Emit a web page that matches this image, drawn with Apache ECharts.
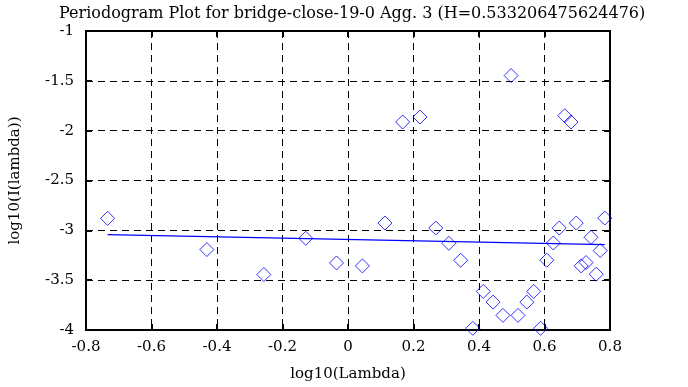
<!DOCTYPE html>
<html><head><meta charset="utf-8">
<script src="https://cdn.jsdelivr.net/npm/echarts@6/dist/echarts.min.js"></script>
<style>html,body{margin:0;padding:0;background:#fff}#c{width:688px;height:387px}</style>
</head><body><div id="c"></div>
<script>
var pointX = [-0.734, -0.431, -0.257, -0.129, -0.035, 0.044, 0.113, 0.167, 0.220, 0.268, 0.308, 0.344, 0.381, 0.413, 0.443, 0.473, 0.498, 0.519, 0.546, 0.567, 0.588, 0.607, 0.627, 0.645, 0.662, 0.681, 0.697, 0.712, 0.727, 0.742, 0.758, 0.770, 0.784];
var pointY = [-2.88, -3.193, -3.443, -3.08, -3.327, -3.357, -2.927, -1.913, -1.863, -2.977, -3.13, -3.30, -3.983, -3.613, -3.72, -3.853, -1.447, -3.853, -3.72, -3.613, -3.983, -3.30, -3.127, -2.977, -1.85, -1.913, -2.927, -3.357, -3.323, -3.07, -3.44, -3.203, -2.877];
var fitX = [-0.734, 0.784];
var fitY = [-3.043, -3.144];
var xTicks = [-0.8, -0.6, -0.4, -0.2, 0, 0.2, 0.4, 0.6, 0.8];
var yTicks = [-4, -3.5, -3, -2.5, -2, -1.5, -1];
var titleText = 'Periodogram Plot for bridge-close-19-0 Agg. 3 (H=0.533206475624476)';

var font = 'DejaVu Serif';
var pts = pointX.map(function(x,i){return [x, pointY[i]];});
var fit = fitX.map(function(x,i){return [x, fitY[i]];});
function fmt(v){ return String(Math.round(v*100)/100); }

var chart = echarts.init(document.getElementById('c'), null, {renderer:'canvas'});
chart.setOption({
  animation:false,
  backgroundColor:'#fff',
  title:{text:titleText, left:54, top:1, textStyle:{fontFamily:font, fontSize:16, fontWeight:'normal', color:'#000'}},
  grid:{left:82, right:78, top:31, bottom:56, containLabel:false},
  xAxis:[{
    type:'value', min:xTicks[0], max:xTicks[xTicks.length-1], interval:0.2,
    name:'log10(Lambda)', nameLocation:'middle', nameGap:37,
    nameTextStyle:{fontFamily:font, fontSize:15, color:'#000'},
    axisLine:{onZero:false, lineStyle:{color:'#000', width:2}},
    axisTick:{inside:true, length:6, lineStyle:{color:'#000', width:2}},
    axisLabel:{fontFamily:font, fontSize:15, color:'#000', margin:10, formatter:fmt},
    splitLine:{show:true, lineStyle:{color:'#000', type:[7,5], width:1}}
  },{
    type:'value', position:'top', min:xTicks[0], max:xTicks[xTicks.length-1], interval:0.2,
    axisLine:{show:true, onZero:false, lineStyle:{color:'#000', width:2}},
    axisTick:{show:true, inside:true, length:6, lineStyle:{color:'#000', width:2}},
    axisLabel:{show:false}, splitLine:{show:false}
  }],
  yAxis:[{
    type:'value', min:yTicks[0], max:yTicks[yTicks.length-1], interval:0.5,
    name:'log10(I(lambda))', nameLocation:'middle', nameGap:63,
    nameTextStyle:{fontFamily:font, fontSize:15, color:'#000'},
    axisLine:{show:true, onZero:false, lineStyle:{color:'#000', width:2}},
    axisTick:{show:true, inside:true, length:6, lineStyle:{color:'#000', width:2}},
    axisLabel:{fontFamily:font, fontSize:15, color:'#000', margin:12, formatter:fmt},
    splitLine:{show:true, lineStyle:{color:'#000', type:[7,5], width:1}}
  },{
    type:'value', position:'right', min:yTicks[0], max:yTicks[yTicks.length-1], interval:0.5,
    axisLine:{show:true, onZero:false, lineStyle:{color:'#000', width:2}},
    axisTick:{show:true, inside:true, length:6, lineStyle:{color:'#000', width:2}},
    axisLabel:{show:false}, splitLine:{show:false}
  }],
  series:[{
    type:'scatter', data:pts, symbol:'diamond', symbolSize:[14,14],
    itemStyle:{color:'rgba(0,0,0,0)', borderColor:'#0000ff', borderWidth:1}
  },{
    type:'line', data:fit, symbol:'none', lineStyle:{color:'#0000ff', width:1.2}
  }]
});
</script></body></html>
